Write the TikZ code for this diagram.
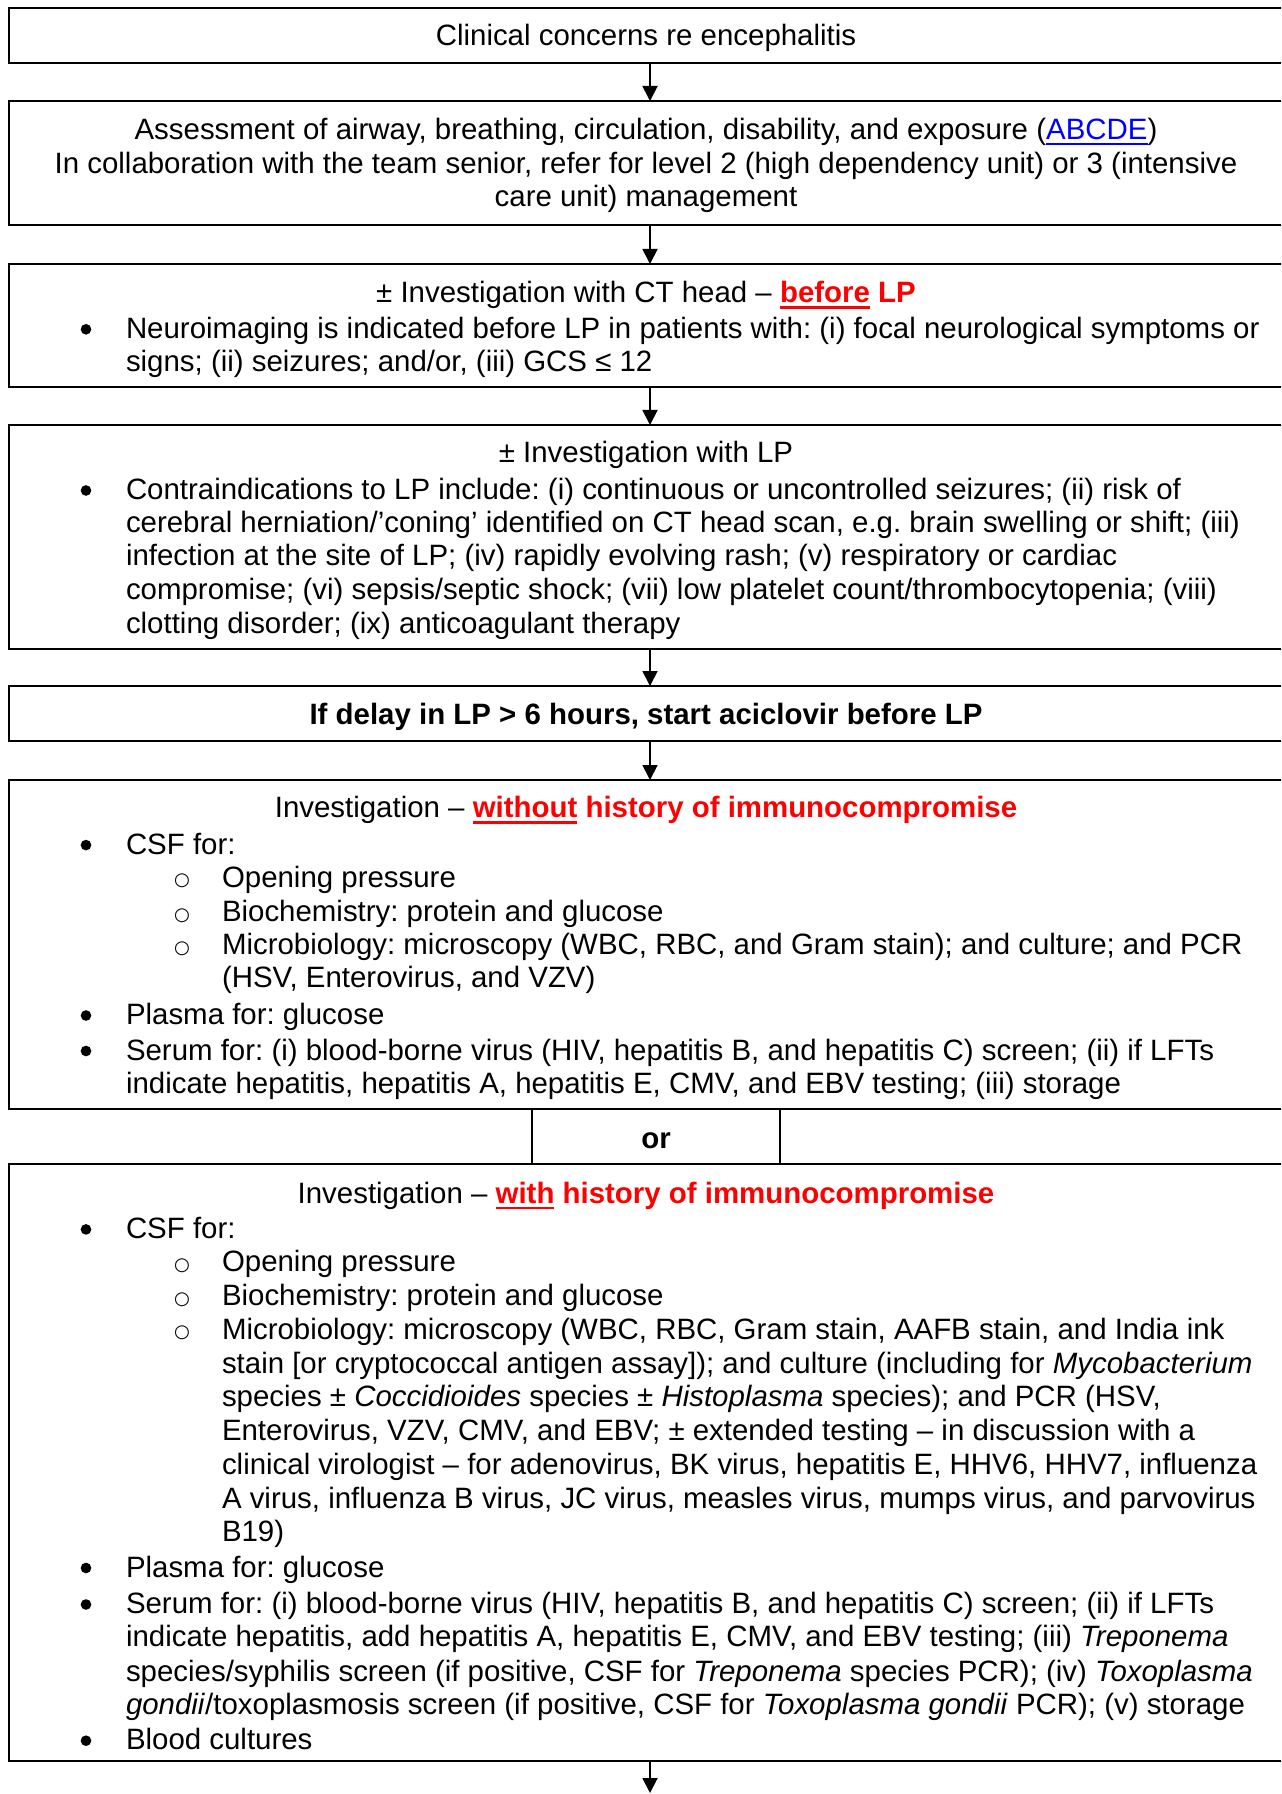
\documentclass[tikz,border=0pt]{standalone}
\usepackage{fontspec}
\setmainfont{Liberation Sans}
\newfontfamily\djv{DejaVu Sans}
\usetikzlibrary{arrows.meta,fit}
\definecolor{wred}{RGB}{255,0,0}
\definecolor{wblue}{RGB}{0,0,255}
\frenchspacing
\newsavebox\ulbox
\newcommand\ulx[1]{\sbox\ulbox{#1}\rlap{\rule[-2.6pt]{\wd\ulbox}{1.1pt}}\usebox\ulbox}
\newcommand\rd[1]{{\color{wred}\bfseries #1}}
\newcommand\sbul{\llap{\makebox[0pt][c]{\raisebox{0.6pt}{\djv\fontsize{7.5}{7.5}\selectfont ○}}\hspace{16.53pt}}}
\begin{document}
\begin{tikzpicture}[x=0.41322pt,y=-0.41322pt,
  box/.style={draw=black, line width=0.8pt, inner sep=0pt, outer sep=0pt, rectangle},
  txt/.style={inner sep=0pt, outer sep=0pt, font=\fontsize{12.16}{14}\selectfont},
  hd/.style={txt, anchor=base},
  ln/.style={txt, anchor=base west},
  bulc/.style={circle, fill=black, inner sep=0pt, minimum size=4.4pt},
  arr/.style={line width=0.75pt, -{Triangle[length=6.2pt,width=6.2pt]}}]
\useasboundingbox (0,0) rectangle (1281,1794);
\clip (0,0) rectangle (1281,1794);
% boxes
\node[box, fit={(9,8)(1291,63)}] (b1) {};
\node[box, fit={(9,101)(1291,225)}] (b2) {};
\node[box, fit={(9,264)(1291,387)}] (b3) {};
\node[box, fit={(9,425)(1291,649)}] (b4) {};
\node[box, fit={(9,686)(1291,741)}] (b5) {};
\node[box, fit={(9,780)(1291,1109)}] (b6) {};
\node[box, fit={(532,1109)(780,1164)}] (bor) {};
\node[box, fit={(9,1164)(1291,1761)}] (b7) {};
\coordinate (endc) at (650,1793);
% arrows
\draw[arr] (b1.south) -- (b2.north);
\draw[arr] (b2.south) -- (b3.north);
\draw[arr] (b3.south) -- (b4.north);
\draw[arr] (b4.south) -- (b5.north);
\draw[arr] (b5.south) -- (b6.north);
\draw[arr] (b7.south) -- (endc);
% bullets
\node[bulc] (u1) at (86,329.3) {};
\node[bulc] (u2) at (86,490.5) {};
\node[bulc] (u3) at (86,845.1) {};
\node[bulc] (u4) at (86,1015.5) {};
\node[bulc] (u5) at (86,1051.0) {};
\node[bulc] (u6) at (86,1229.4) {};
\node[bulc] (u7) at (86,1568.0) {};
\node[bulc] (u8) at (86,1604.5) {};
\node[bulc] (u9) at (86,1740.7) {};
% box 1
\node[hd] (t1) at (646,45.5) {Clinical concerns re encephalitis};
% box 2
\node[hd] (t2a) at (646,139.2) {Assessment of airway, breathing, circulation, disability, and exposure ({\color{wblue}\ulx{ABCDE}})};
\node[hd] (t2b) at (646,173.6) {In collaboration with the team senior, refer for level 2 (high dependency unit) or 3 (intensive};
\node[hd] (t2c) at (646,206.7) {care unit) management};
% box 3
\node[hd] (t3h) at (646,302.8) {± Investigation with CT head – \rd{\ulx{before} LP}};
\node[ln] (t3a) at (126,338.3) {Neuroimaging is indicated before LP in patients with: (i) focal neurological symptoms or};
\node[ln] (t3b) at (126,371.4) {signs; (ii) seizures; and/or, (iii) GCS ≤ 12};
% box 4
\node[hd] (t4h) at (646,462.9) {± Investigation with LP};
\node[ln] (t4a) at (126,499.5) {Contraindications to LP include: (i) continuous or uncontrolled seizures; (ii) risk of};
\node[ln] (t4b) at (126,532.7) {cerebral herniation/’coning’ identified on CT head scan, e.g. brain swelling or shift; (iii)};
\node[ln] (t4c) at (126,565.9) {infection at the site of LP; (iv) rapidly evolving rash; (v) respiratory or cardiac};
\node[ln] (t4d) at (126,599.0) {compromise; (vi) sepsis/septic shock; (vii) low platelet count/thrombocytopenia; (viii)};
\node[ln] (t4e) at (126,633.3) {clotting disorder; (ix) anticoagulant therapy};
% box 5
\node[hd] (t5) at (646,724.9) {\bfseries If delay in LP > 6 hours, start aciclovir before LP};
% box 6
\node[hd] (t6h) at (646,817.5) {Investigation – \rd{\ulx{without} history of immunocompromise}};
\node[ln] (t6a) at (126,854.1) {CSF for:};
\node[ln] (t6b) at (222,887.3) {\sbul Opening pressure};
\node[ln] (t6c) at (222,921.6) {\sbul Biochemistry: protein and glucose};
\node[ln] (t6d) at (222,954.7) {\sbul Microbiology: microscopy (WBC, RBC, and Gram stain); and culture; and PCR};
\node[ln] (t6e) at (222,987.9) {(HSV, Enterovirus, and VZV)};
\node[ln] (t6f) at (126,1024.5) {Plasma for: glucose};
\node[ln] (t6g) at (126,1060.0) {Serum for: (i) blood-borne virus (HIV, hepatitis B, and hepatitis C) screen; (ii) if LFTs};
\node[ln] (t6i) at (126,1093.1) {indicate hepatitis, hepatitis A, hepatitis E, CMV, and EBV testing; (iii) storage};
% or
\node[hd] (tor) at (656,1148) {\bfseries or};
% box 7
\node[hd] (t7h) at (646,1203) {Investigation – \rd{\ulx{with} history of immunocompromise}};
\node[ln] (t7a) at (126,1238.4) {CSF for:};
\node[ln] (t7b) at (222,1271.6) {\sbul Opening pressure};
\node[ln] (t7c) at (222,1305.9) {\sbul Biochemistry: protein and glucose};
\node[ln] (t7d) at (222,1339.0) {\sbul Microbiology: microscopy (WBC, RBC, Gram stain, AAFB stain, and India ink};
\node[ln] (t7e) at (222,1373.3) {stain [or cryptococcal antigen assay]); and culture (including for \textit{Mycobacterium}};
\node[ln] (t7f) at (222,1406.5) {species ± \textit{Coccidioides} species ± \textit{Histoplasma} species); and PCR (HSV,};
\node[ln] (t7g) at (222,1440.8) {Enterovirus, VZV, CMV, and EBV; ± extended testing – in discussion with a};
\node[ln] (t7i) at (222,1474.0) {clinical virologist – for adenovirus, BK virus, hepatitis E, HHV6, HHV7, influenza};
\node[ln] (t7j) at (222,1508.3) {A virus, influenza B virus, JC virus, measles virus, mumps virus, and parvovirus};
\node[ln] (t7k) at (222,1541.5) {B19)};
\node[ln] (t7l) at (126,1577.0) {Plasma for: glucose};
\node[ln] (t7m) at (126,1613.5) {Serum for: (i) blood-borne virus (HIV, hepatitis B, and hepatitis C) screen; (ii) if LFTs};
\node[ln] (t7n) at (126,1646.7) {indicate hepatitis, add hepatitis A, hepatitis E, CMV, and EBV testing; (iii) \textit{Treponema}};
\node[ln] (t7o) at (126,1681.0) {species/syphilis screen (if positive, CSF for \textit{Treponema} species PCR); (iv) \textit{Toxoplasma}};
\node[ln] (t7p) at (126,1714.2) {\textit{gondii}/toxoplasmosis screen (if positive, CSF for \textit{Toxoplasma gondii} PCR); (v) storage};
\node[ln] (t7q) at (126,1749.7) {Blood cultures};
\end{tikzpicture}
\end{document}
